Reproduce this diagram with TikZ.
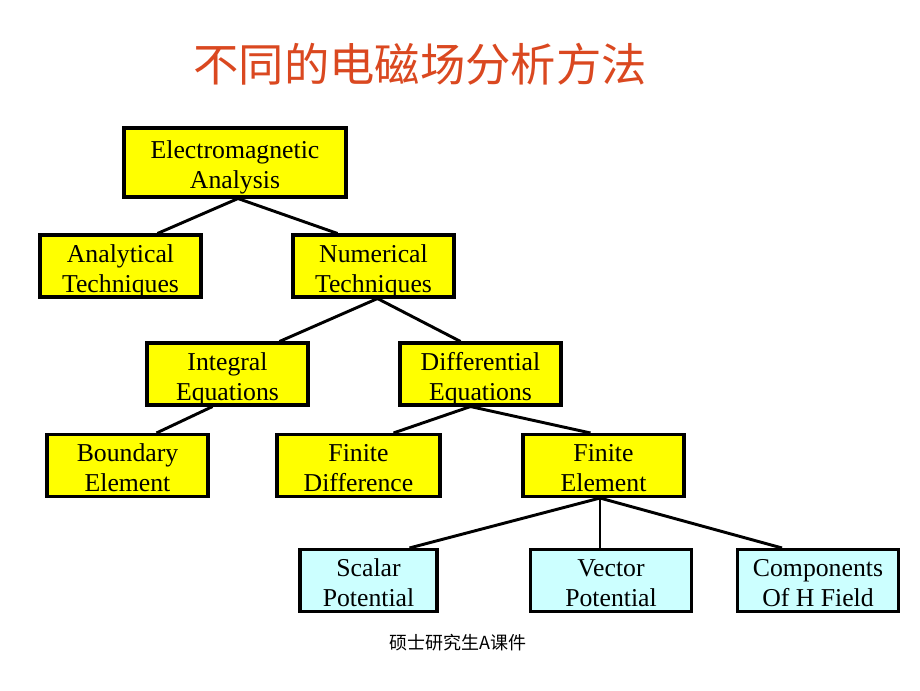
\documentclass[tikz,border=0pt]{standalone}
\usepackage{fontspec}
\setmainfont{Liberation Serif}
\newfontfamily\cjk{Noto Sans CJK SC}
\begin{document}
\begin{tikzpicture}[x=0.75pt,y=0.75pt,yscale=-1,xscale=1]
\tikzset{
  box/.style={draw=black, line width=2.3pt, fill={rgb, 255:red, 255; green, 255; blue, 0 }, inner sep=0pt, align=center, minimum width=120.75pt, minimum height=46.5pt, text height=39.4pt, text depth=0pt, font=\fontsize{19.3}{22.5}\selectfont},
  leaf/.style={box, fill={rgb, 255:red, 204; green, 255; blue, 255 }},
  link/.style={line width=2.2pt}
}
\path[use as bounding box] (0,0) rectangle (920,690);

% Title
\node [text={rgb, 255:red, 218; green, 72; blue, 32 }, font=\cjk\fontsize{34}{40}\selectfont] (title) at (420,64) {不同的电磁场分析方法};

% Boxes
\node [box, minimum width=166.5pt, minimum height=51.75pt] (ea) at (235,162.5) {Electromagnetic\\Analysis};
\node [box] (at) at (120.5,266) {Analytical\\Techniques};
\node [box] (nt) at (373.5,266) {Numerical\\Techniques};
\node [box] (ie) at (227.5,374) {Integral\\Equations};
\node [box] (de) at (480.5,374) {Differential\\Equations};
\node [box] (be) at (127.5,465.5) {Boundary\\Element};
\node [box, minimum width=122.25pt] (fd) at (358.5,465.5) {Finite\\Difference};
\node [box] (fe) at (603.5,465.5) {Finite\\Element};
\node [leaf, minimum width=102.75pt] (sp) at (368.5,580.5) {Scalar\\Potential};
\node [leaf] (vp) at (611,580.5) {Vector\\Potential};
\node [leaf] (hf) at (818,580.5) {Components\\Of H Field};

% Connectors
\draw [link] ([xshift=2.25pt]ea.south) -- ([xshift=27.75pt]at.north);
\draw [link] ([xshift=2.25pt]ea.south) -- ([xshift=-27pt]nt.north);
\draw [link] ([xshift=3pt]nt.south) -- ([xshift=39pt]ie.north);
\draw [link] ([xshift=3pt]nt.south) -- ([xshift=-15pt]de.north);
\draw [link] ([xshift=-11.25pt]ie.south) -- ([xshift=21.75pt]be.north);
\draw [link] ([xshift=-7.5pt]de.south) -- ([xshift=26.25pt]fd.north);
\draw [link] ([xshift=-7.5pt]de.south) -- ([xshift=-9.75pt]fe.north);
\draw [link] ([xshift=-2.625pt]fe.south) -- ([xshift=30.75pt]sp.north);
\draw [link] ([xshift=-2.625pt]fe.south) -- ([xshift=-8.25pt]vp.north);
\draw [link] ([xshift=-2.625pt]fe.south) -- ([xshift=-27pt]hf.north);

% Footer
\node [font=\cjk\fontsize{13.5}{15}\selectfont] (foot) at (458,643) {硕士研究生A课件};

\end{tikzpicture}
\end{document}
